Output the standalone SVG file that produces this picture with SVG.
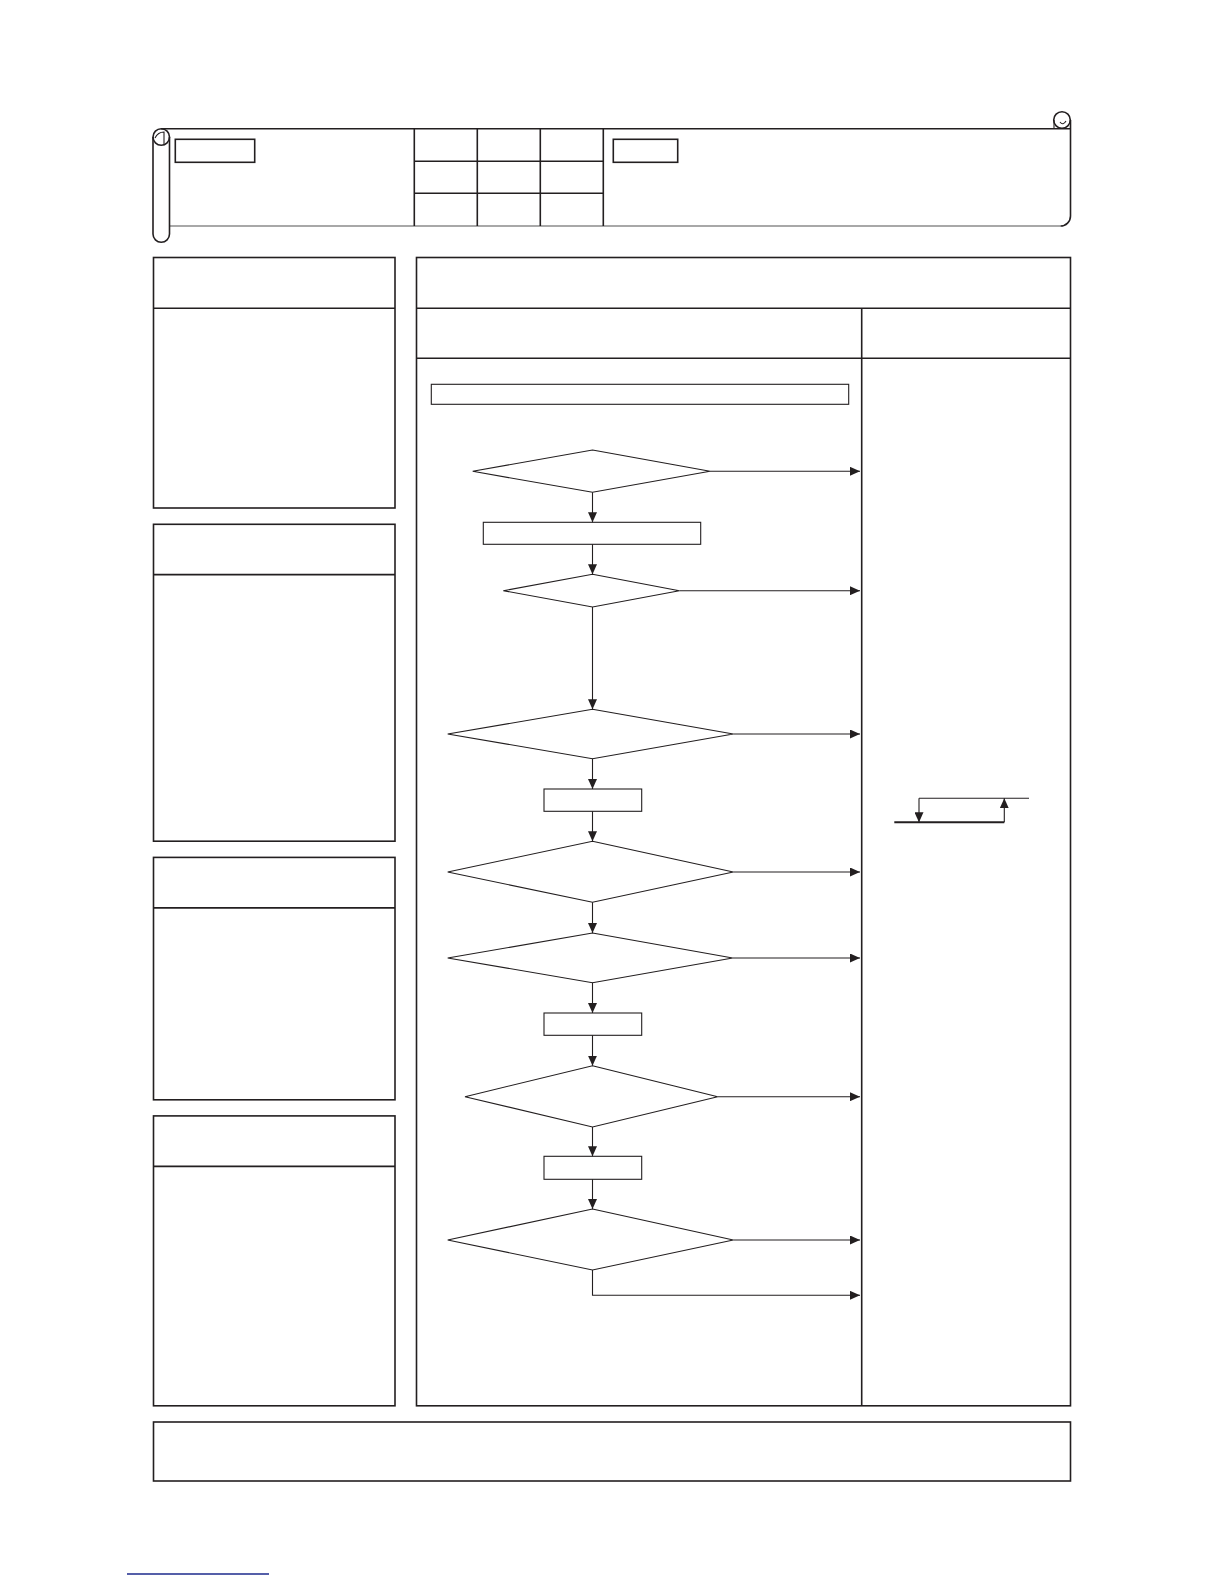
<svg xmlns="http://www.w3.org/2000/svg" width="1224" height="1584" viewBox="0 0 1224 1584">
<style>
.pn{fill:#fff;stroke:#231f20;stroke-width:1.6}
.ln{stroke:#231f20;stroke-width:1.6;fill:none}
.fl{fill:#fff;stroke:#231f20;stroke-width:1.1}
.cn{stroke:#231f20;stroke-width:1.1;fill:none}
</style>
<defs>
<marker id="ah" markerUnits="userSpaceOnUse" markerWidth="10" markerHeight="9" refX="10" refY="4.5" orient="auto">
<path d="M0,0 L10,4.5 L0,9 z" fill="#231f20"/>
</marker>
</defs>
<rect width="1224" height="1584" fill="#fff"/>
<g id="header">
<path d="M161,128.7 L1070,128.7" class="ln"/>
<path d="M169.5,226 L1060.5,226" stroke="#a8a8a8" stroke-width="2.2" fill="none"/>
<path d="M1070.5,120 L1070.5,216 A10,10 0 0 1 1060.5,226" class="ln"/>
<circle cx="1062" cy="120" r="8.3" class="ln" fill="#fff"/>
<path d="M1054,120 L1054,128.7 M1060,122 Q1063,126 1066,121" class="cn"/>
<path d="M153,137 L153,234 A8.25,8.25 0 0 0 169.5,234 L169.5,137" class="ln" fill="#fff"/>
<circle cx="161.25" cy="137" r="8.25" class="ln" fill="#fff"/>
<path d="M155,138 Q158,132 164,132 L164,145" class="cn"/>
<rect x="175.3" y="139.3" width="79.4" height="23" class="pn"/>
<rect x="613.3" y="139.3" width="64.4" height="23" class="pn"/>
<path d="M414.3,128.7 V226 M477.3,128.7 V226 M540.3,128.7 V226 M603.3,128.7 V226 M414.3,161.3 H603.3 M414.3,193.3 H603.3" class="ln"/>
</g>
<g id="panel1"><rect x="153.5" y="257.5" width="241.5" height="250.5" class="pn"/><path d="M153.5,308.3 H395" class="ln"/></g>
<g id="panel2"><rect x="153.5" y="524.3" width="241.5" height="316.9" class="pn"/><path d="M153.5,574.6 H395" class="ln"/></g>
<g id="panel3"><rect x="153.5" y="857.4" width="241.5" height="242.4" class="pn"/><path d="M153.5,907.9 H395" class="ln"/></g>
<g id="panel4"><rect x="153.5" y="1115.9" width="241.5" height="289.9" class="pn"/><path d="M153.5,1166.4 H395" class="ln"/></g>
<g id="mainpanel">
<rect x="416.5" y="257.5" width="654" height="1148.3" class="pn"/>
<path d="M416.5,308.3 H1070.5 M416.5,358.3 H1070.5 M861.7,308.3 V1405.8" class="ln"/>
</g>
<g id="footer"><rect x="153.5" y="1422" width="917" height="59" class="pn"/></g>
<g id="n0"><rect x="431.3" y="384.3" width="417.4" height="20" class="fl"/></g>
<g id="d1"><polygon points="592.5,450 710,471.3 592.5,492.3 472.7,471.3" class="fl"/></g>
<g id="r1"><rect x="483.3" y="522.3" width="217.4" height="22" class="fl"/></g>
<g id="d2"><polygon points="592.5,574.3 679.3,590.7 592.5,607 503.3,590.7" class="fl"/></g>
<g id="d3"><polygon points="592.5,709.3 733.3,734 592.5,758.7 447.7,734" class="fl"/></g>
<g id="r2"><rect x="544" y="789" width="97.7" height="22.3" class="fl"/></g>
<g id="d4"><polygon points="592.5,841.3 733.3,872 592.5,902.3 447.7,872" class="fl"/></g>
<g id="d5"><polygon points="592.5,933 732.7,958 592.5,982.7 447.7,958" class="fl"/></g>
<g id="r3"><rect x="544" y="1013" width="97.7" height="22.3" class="fl"/></g>
<g id="d6"><polygon points="592.5,1065.7 717.7,1096.7 592.5,1127 465,1096.7" class="fl"/></g>
<g id="r4"><rect x="544" y="1156.3" width="97.7" height="23" class="fl"/></g>
<g id="d7"><polygon points="592.5,1209 733.3,1240 592.5,1270 447.7,1240" class="fl"/></g>
<g id="hysteresis">
<path d="M919,798.3 H1029" class="cn"/>
<path d="M894.3,822.3 H1004.3" stroke="#231f20" stroke-width="2" fill="none"/>
<path d="M919,798.3 V822.3" class="cn" marker-end="url(#ah)"/>
<path d="M1004.3,822.3 V798.3" class="cn" marker-end="url(#ah)"/>
</g>
<g id="connectors" class="cn" marker-end="url(#ah)">
<path d="M710,471.3 H860"/>
<path d="M592.5,492.3 V522.3"/>
<path d="M592.5,544.3 V574.3"/>
<path d="M679.3,590.7 H860"/>
<path d="M592.5,607 V709.3"/>
<path d="M733.3,734 H860"/>
<path d="M592.5,758.7 V789"/>
<path d="M592.5,811.3 V841.3"/>
<path d="M733.3,872 H860"/>
<path d="M592.5,902.3 V933"/>
<path d="M732.7,958 H860"/>
<path d="M592.5,982.7 V1013"/>
<path d="M592.5,1035.3 V1065.7"/>
<path d="M717.7,1096.7 H860"/>
<path d="M592.5,1127 V1156.3"/>
<path d="M592.5,1179.3 V1209"/>
<path d="M733.3,1240 H860"/>
<path d="M592.5,1270 V1295.3 H860"/>
</g>
<path d="M127,1574 H269" stroke="#1c2a8c" stroke-width="1.4" fill="none"/>
</svg>
